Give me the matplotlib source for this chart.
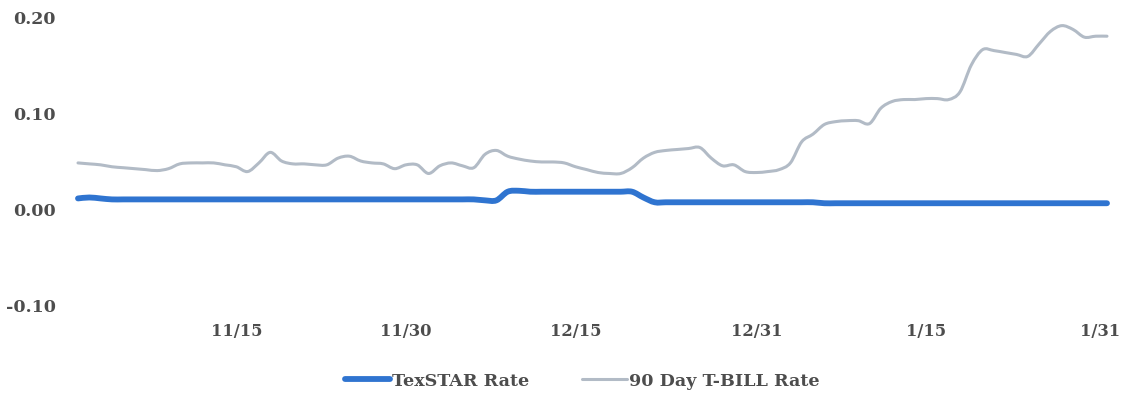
import matplotlib
matplotlib.use("Agg")
import matplotlib.pyplot as plt
import matplotlib.dates as mdates
from matplotlib.path import Path
from matplotlib.patches import PathPatch
from matplotlib.lines import Line2D
from matplotlib.transforms import ScaledTranslation
import numpy as np
import pandas as pd

# Daily rates, 11/1 through 1/31
dates = pd.date_range("2021-11-01", "2022-01-31", freq="D")

texstar_rate = [
    0.011, 0.012, 0.011, 0.010, 0.010, 0.010, 0.010, 0.010, 0.010, 0.010,
    0.010, 0.010, 0.010, 0.010, 0.010, 0.010, 0.010, 0.010, 0.010, 0.010,
    0.010, 0.010, 0.010, 0.010, 0.010, 0.010, 0.010, 0.010, 0.010, 0.010,
    0.010, 0.010, 0.010, 0.010, 0.010, 0.010, 0.009, 0.009, 0.018, 0.019,
    0.018, 0.018, 0.018, 0.018, 0.018, 0.018, 0.018, 0.018, 0.018, 0.018,
    0.012, 0.007, 0.007, 0.007, 0.007, 0.007, 0.007, 0.007, 0.007, 0.007,
    0.007, 0.007, 0.007, 0.007, 0.007, 0.007, 0.006, 0.006, 0.006, 0.006,
    0.006, 0.006, 0.006, 0.006, 0.006, 0.006, 0.006, 0.006, 0.006, 0.006,
    0.006, 0.006, 0.006, 0.006, 0.006, 0.006, 0.006, 0.006, 0.006, 0.006,
    0.006, 0.006,
]

tbill_rate = [
    0.048, 0.047, 0.046, 0.044, 0.043, 0.042, 0.041, 0.040, 0.042, 0.047,
    0.048, 0.048, 0.048, 0.046, 0.044, 0.039, 0.048, 0.059, 0.050, 0.047,
    0.047, 0.046, 0.046, 0.053, 0.055, 0.050, 0.048, 0.047, 0.042, 0.046,
    0.046, 0.037, 0.045, 0.048, 0.045, 0.043, 0.057, 0.061, 0.055, 0.052,
    0.050, 0.049, 0.049, 0.048, 0.044, 0.041, 0.038, 0.037, 0.037, 0.043,
    0.053, 0.059, 0.061, 0.062, 0.063, 0.064, 0.053, 0.045, 0.046, 0.039,
    0.038, 0.039, 0.041, 0.048, 0.070, 0.078, 0.088, 0.091, 0.092, 0.092,
    0.089, 0.105, 0.112, 0.114, 0.114, 0.115, 0.115, 0.114, 0.122, 0.150,
    0.166, 0.165, 0.163, 0.161, 0.159, 0.172, 0.185, 0.191, 0.187, 0.179,
    0.180, 0.180,
]

tick_dates = pd.to_datetime(["2021-11-15", "2021-11-30", "2021-12-15",
                             "2021-12-31", "2022-01-15", "2022-01-31"])
tick_labels = ["11/15", "11/30", "12/15", "12/31", "1/15", "1/31"]
y_ticks = [-0.10, 0.00, 0.10, 0.20]
y_labels = ["-0.10", "0.00", "0.10", "0.20"]

TEXSTAR_COLOR = "#2f74d0"
TBILL_COLOR = "#b2bbc6"
TEXT_COLOR = "#4d4d4d"


def smooth_path(x, y):
    """Smoothed line through (x, y): Catmull-Rom segments as cubic Beziers."""
    pts = np.column_stack([x, y]).astype(float)
    ext = np.vstack([pts[0], pts, pts[-1]])
    verts = [pts[0]]
    codes = [Path.MOVETO]
    for i in range(1, len(ext) - 2):
        p0, p1, p2, p3 = ext[i - 1], ext[i], ext[i + 1], ext[i + 2]
        verts += [p1 + (p2 - p0) / 6.0, p2 - (p3 - p1) / 6.0, p2]
        codes += [Path.CURVE4] * 3
    return Path(verts, codes)


fig = plt.figure(figsize=(11.25, 3.94), dpi=100)
ax = fig.add_axes([78 / 1125, 1 - 305 / 394, (1107 - 78) / 1125, (305 - 17) / 394])

xnum = mdates.date2num(dates)
for series, color, lw, z in [(tbill_rate, TBILL_COLOR, 2.2, 2),
                             (texstar_rate, TEXSTAR_COLOR, 4.2, 3)]:
    patch = PathPatch(smooth_path(xnum, series), fill=False, edgecolor=color,
                      lw=lw, capstyle="round", joinstyle="round",
                      transform=ax.transData, clip_on=False, zorder=z)
    ax.add_patch(patch)

ax.set_xlim(dates[0], dates[-1])
ax.set_ylim(-0.10, 0.20)

font = {"family": "DejaVu Serif", "weight": "bold"}
ax.set_xticks(tick_dates)
ax.set_xticklabels(tick_labels, fontsize=11.8, color=TEXT_COLOR, **font)
ax.set_yticks(y_ticks)
ax.set_yticklabels(y_labels, fontsize=12.5, color=TEXT_COLOR, **font)
ax.tick_params(axis="both", length=0)
ax.tick_params(axis="x", pad=13)
ax.tick_params(axis="y", pad=16)

# keep the last date label inside the right edge
last = ax.get_xticklabels()[-1]
last.set_transform(last.get_transform() + ScaledTranslation(-5 / 72, 0, fig.dpi_scale_trans))

for spine in ax.spines.values():
    spine.set_visible(False)

handles = [
    Line2D([], [], color=TEXSTAR_COLOR, lw=4.2, solid_capstyle="round"),
    Line2D([], [], color=TBILL_COLOR, lw=2.2, solid_capstyle="round"),
]
leg = ax.legend(handles, ["TexSTAR Rate", "90 Day T-BILL Rate"],
                loc="center", bbox_to_anchor=(582 / 1125, 1 - 381 / 394),
                bbox_transform=fig.transFigure, ncol=2, frameon=False,
                handlelength=2.6, handletextpad=0.1, columnspacing=3.0,
                prop={"family": "DejaVu Serif", "weight": "bold", "size": 12.6})
for t in leg.get_texts():
    t.set_color(TEXT_COLOR)

fig.savefig("out.png", dpi=100, facecolor="white")
